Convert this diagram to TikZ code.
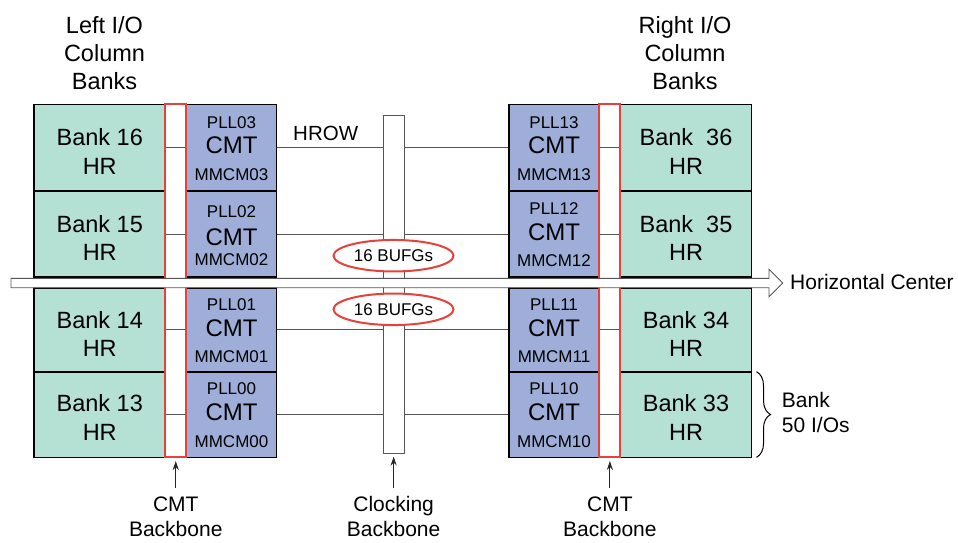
\documentclass[tikz,border=0pt]{standalone}
\usepackage{fontspec}
\setmainfont{Liberation Sans}
\usetikzlibrary{shapes.geometric,arrows.meta,decorations.pathreplacing}
\definecolor{bankgreen}{HTML}{B5E0D4}
\definecolor{cmtblue}{HTML}{9EAED8}
\definecolor{bbred}{HTML}{E8403A}
\definecolor{thin}{HTML}{555555}
\begin{document}
\begin{tikzpicture}[x=1pt,y=-1pt,
  blockbox/.style={draw=black,line width=1.6pt,inner sep=0pt,outer sep=0pt},
  bankbox/.style={blockbox,fill=bankgreen,minimum width=131pt},
  cmtbox/.style={blockbox,fill=cmtblue,minimum width=90pt},
  redbb/.style={draw=bbred,line width=2pt,inner sep=0pt,outer sep=0pt,minimum width=21pt,minimum height=353pt},
  banktxt/.style={align=center,inner sep=0pt,font=\fontsize{23.5}{28.5}\selectfont},
  plltxt/.style={inner sep=0pt,font=\fontsize{17}{20}\selectfont},
  cmttxt/.style={inner sep=0pt,font=\fontsize{24}{28}\selectfont},
  hrowline/.style={draw=thin,line width=0.9pt},
  lbl/.style={align=center,inner sep=0pt,font=\fontsize{21}{25}\selectfont},
  toplbl/.style={align=center,inner sep=0pt,font=\fontsize{23.5}{28.3}\selectfont},
  bufg/.style={ellipse,draw=bbred,line width=2pt,fill=white,minimum width=120pt,minimum height=31.5pt,inner sep=0pt,font=\fontsize{17}{20}\selectfont},
  arr/.style={-{Stealth[length=9pt,width=6pt]},line width=1pt,draw=black!85}
]
\useasboundingbox (0,0) rectangle (958,542);

% backbones (red) as named nodes, drawn later on top
\path (175.75,280.8) node[redbb,draw=none] (lred) {};
\path (609.9,280.8) node[redbb,draw=none] (rred) {};

% HROW lines (behind blocks)
\foreach \yy in {147.65,234,329.85,414.5}{
  \draw[hrowline] (lred.west |- 0,\yy) -- (rred.east |- 0,\yy);
}

% left banks
\node[bankbox,minimum height=86.7pt] (b16) at (99.75,147.65) {};
\node[bankbox,minimum height=86pt]   (b15) at (99.75,234) {};
\node[bankbox,minimum height=83.7pt] (b14) at (99.75,329.85) {};
\node[bankbox,minimum height=85.6pt] (b13) at (99.75,414.5) {};
\node[banktxt] (t16) at ([yshift=-4pt]b16.center) {Bank 16\\HR};
\node[banktxt] (t15) at ([yshift=-4pt]b15.center) {Bank 15\\HR};
\node[banktxt] (t14) at ([yshift=-4pt]b14.center) {Bank 14\\HR};
\node[banktxt] (t13) at ([yshift=-3pt]b13.center) {Bank 13\\HR};

% right banks
\node[bankbox,minimum height=86.7pt] (b36) at (686,147.65) {};
\node[bankbox,minimum height=86pt]   (b35) at (686,234) {};
\node[bankbox,minimum height=83.7pt] (b34) at (686,329.85) {};
\node[bankbox,minimum height=85.6pt] (b33) at (686,414.5) {};
\node[banktxt] (t36) at ([yshift=-4pt]b36.center) {Bank~~36\\HR};
\node[banktxt] (t35) at ([yshift=-4pt]b35.center) {Bank~~35\\HR};
\node[banktxt] (t34) at ([yshift=-4pt]b34.center) {Bank 34\\HR};
\node[banktxt] (t33) at ([yshift=-3pt]b33.center) {Bank 33\\HR};

% left CMT blocks
\node[cmtbox,minimum height=86.7pt] (c03) at (231.5,147.65) {};
\node[cmtbox,minimum height=86pt]   (c02) at (231.5,234) {};
\node[cmtbox,minimum height=83.7pt] (c01) at (231.5,329.85) {};
\node[cmtbox,minimum height=85.6pt] (c00) at (231.5,414.5) {};
% right CMT blocks
\node[cmtbox,minimum height=86.7pt] (c13) at (554,147.65) {};
\node[cmtbox,minimum height=86pt]   (c12) at (554,234) {};
\node[cmtbox,minimum height=83.7pt] (c11) at (554,329.85) {};
\node[cmtbox,minimum height=85.6pt] (c10) at (554,414.5) {};

\foreach \c/\n in {c03/03,c01/01,c00/00,c13/13,c12/12,c11/11,c10/10}{
  \node[plltxt] (p\n) at ([yshift=25.5pt]\c.center) {PLL\n};
  \node[cmttxt] (m\n) at ([yshift=2pt]\c.center) {CMT};
  \node[plltxt] (mm\n) at ([yshift=-27pt]\c.center) {MMCM\n};
}
\node[plltxt] (p02) at ([yshift=22.8pt]c02.center) {PLL02};
\node[cmttxt] (m02) at ([yshift=-3.5pt]c02.center) {CMT};
\node[plltxt] (mm02) at ([yshift=-26pt]c02.center) {MMCM02};

% red backbone outlines
\node[redbb] (lredo) at (lred.center) {};
\node[redbb] (rredo) at (rred.center) {};

% clocking backbone
\node[draw=thin,line width=0.9pt,fill=white,inner sep=0pt,minimum width=20.7pt,minimum height=337.6pt] (clk) at (393.65,284.5) {};

% HROW label
\node[inner sep=0pt,anchor=west,font=\fontsize{20.5}{24}\selectfont] (hrow) at (293,133.8) {HROW};

% horizontal center arrow
\filldraw[draw=thin,fill=white,line width=0.9pt,line join=miter]
  (11,278.3) -- (769,278.3) -- (769,269.3) -- (782.7,283) -- (769,296.7) -- (769,287.7) -- (11,287.7) -- cycle;
\coordinate (hctip) at (782.7,283);
\node[inner sep=0pt,anchor=west,font=\fontsize{21}{25}\selectfont] (hc) at (790,282.2) {Horizontal Center};

% BUFG ellipses
\node[bufg] (bufa) at (393.5,255.7) {16 BUFGs};
\node[bufg] (bufb) at (393.5,309.3) {16 BUFGs};

% top labels
\node[toplbl] (ltop) at (104.5,53.2) {Left I/O\\Column\\Banks};
\node[toplbl] (rtop) at (685,53.2) {Right I/O\\Column\\Banks};

% bottom labels and arrows
\node[lbl] (lcmt) at (lred.center |- 0,516.7) {CMT\\Backbone};
\node[lbl] (ccb) at (clk.center |- 0,516.7) {Clocking\\Backbone};
\node[lbl] (rcmt) at (rred.center |- 0,516.7) {CMT\\Backbone};
\draw[arr,shorten <=8.5pt,shorten >=3.7pt] (lcmt.north) -- (lredo.south);
\draw[arr,shorten <=8.5pt,shorten >=2.8pt] (ccb.north) -- (clk.south);
\draw[arr,shorten <=8.5pt,shorten >=3.7pt] (rcmt.north) -- (rredo.south);

% brace
\draw[line width=1pt,decorate,decoration={brace,amplitude=14pt,raise=0pt}]
  ([xshift=5pt]b33.north east) -- ([xshift=5pt]b33.south east);
\node[lbl,align=left,anchor=west] (b50) at (781.7,412) {Bank\\50 I/Os};
\end{tikzpicture}
\end{document}
